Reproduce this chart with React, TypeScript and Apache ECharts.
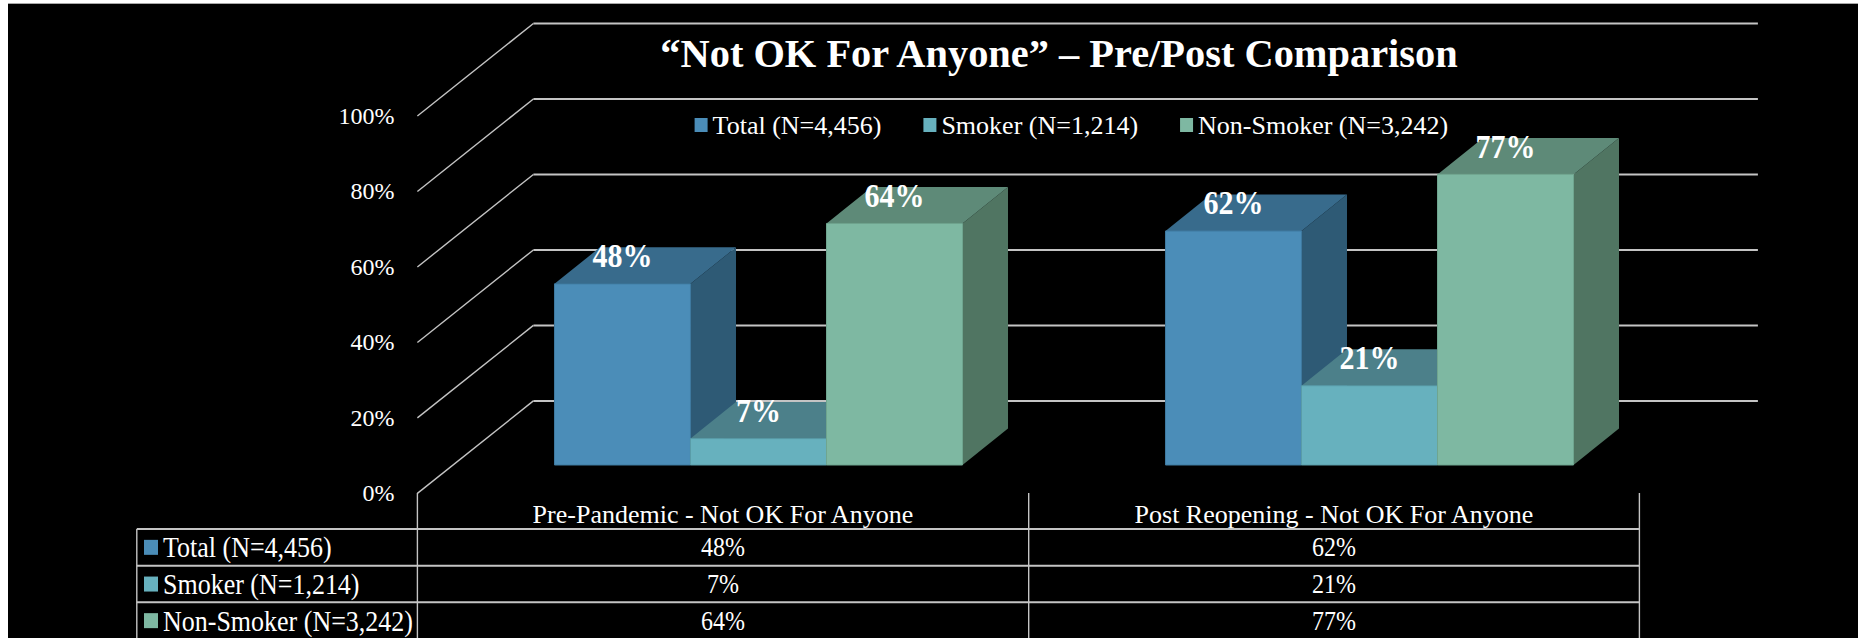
import React, { useEffect, useRef } from "react";
import * as echarts from "echarts";

const titleText = "\u201CNot OK For Anyone\u201D \u2013 Pre/Post Comparison";
const categories = ["Pre-Pandemic - Not OK For Anyone", "Post Reopening - Not OK For Anyone"];
const seriesNames = ["Total (N=4,456)", "Smoker (N=1,214)", "Non-Smoker (N=3,242)"];
const totalValues = [48, 62];
const smokerValues = [7, 21];
const nonSmokerValues = [64, 77];
const yTicks = [0, 20, 40, 60, 80, 100];

const allValues = [totalValues, smokerValues, nonSmokerValues];
const frontColors = ["#4B8DB8", "#67B1BE", "#7EB8A2"];
const topColors = ["#386B8C", "#4C808A", "#5E8A78"];
const sideColors = ["#2E5A75", "#3F6E78", "#507562"];
const edgeColors = ["#3F7AA0", "#5A9CA8", "#6FA58F"];

const FONT = '"Liberation Serif", "Times New Roman", serif';
const GRID_LINE = "#c4c4c4";
const DEPTH_X = 116;
const DEPTH_Y = 92.5;
const BAR_DEPTH_X = 45.5;
const BAR_DEPTH_Y = 36.5;
const BAR_RATIO = 0.2226;
const TEXT_STRETCH = 1.15;

const FRAME = { left: 417.4, top: 116, width: 1222, height: 377.4 };
const PLANE = { left: 453, top: 87.6, width: 1222, height: 377.4 };
const TABLE = { left: 136.8, rowTops: [529, 565.7, 602.3], bottom: 638, axisTop: 493, cols: [417.4, 1028.7, 1639.4] };

function wallItem(params: any, api: any) {
  const v = api.value(1);
  const p = api.coord([0, v]);
  const cs = params.coordSys;
  const band = api.size([1, 0])[0];
  const x0 = p[0] - band / 2;
  const yb = p[1] - DEPTH_Y;
  return {
    type: "group",
    silent: true,
    children: [
      {
        type: "line",
        shape: { x1: x0, y1: p[1], x2: x0 + DEPTH_X, y2: yb },
        style: { stroke: GRID_LINE, lineWidth: 1.4 },
      },
      {
        type: "line",
        shape: { x1: x0 + DEPTH_X, y1: yb, x2: cs.x + cs.width + DEPTH_X + 2.5, y2: yb },
        style: { stroke: GRID_LINE, lineWidth: 2 },
      },
    ],
  };
}

function barItem(pos: number) {
  return (_params: any, api: any) => {
    const value = api.value(1);
    const base = api.coord([api.value(0), 0]);
    const top = api.coord([api.value(0), value]);
    const band = api.size([1, 0])[0];
    const w = band * BAR_RATIO;
    const x = base[0] + (pos - 1.5) * w;
    const yt = top[1];
    const yb = base[1];
    const dx = BAR_DEPTH_X;
    const dy = BAR_DEPTH_Y;
    return {
      type: "group",
      children: [
        {
          type: "polygon",
          shape: { points: [[x + w, yt], [x + w + dx, yt - dy], [x + w + dx, yb - dy], [x + w, yb]] },
          style: { fill: sideColors[pos] },
        },
        {
          type: "polygon",
          shape: { points: [[x, yt], [x + dx, yt - dy], [x + w + dx, yt - dy], [x + w, yt]] },
          style: { fill: topColors[pos] },
        },
        {
          type: "rect",
          shape: { x, y: yt, width: w, height: yb - yt },
          style: { fill: frontColors[pos], stroke: edgeColors[pos], lineWidth: 1 },
        },
        {
          type: "text",
          x: x + w / 2,
          y: yt - 28.5,
          scaleY: TEXT_STRETCH,
          style: {
            text: `${value}%`,
            align: "center",
            verticalAlign: "middle",
            fill: "#ffffff",
            fontFamily: FONT,
            fontSize: 30,
            fontWeight: "bold",
          },
        },
      ],
    };
  };
}

function tableGraphics() {
  const line = (x1: number, y1: number, x2: number, y2: number, lineWidth = 2) => ({
    type: "line",
    silent: true,
    shape: { x1, y1, x2, y2 },
    style: { stroke: GRID_LINE, lineWidth },
  });
  const last = TABLE.cols[TABLE.cols.length - 1];
  const els: any[] = [];
  TABLE.rowTops.forEach((y) => els.push(line(TABLE.left, y, last, y)));
  els.push(line(TABLE.left, TABLE.rowTops[0], TABLE.left, TABLE.bottom, 1.4));
  TABLE.cols.forEach((x) => els.push(line(x, TABLE.axisTop, x, TABLE.bottom, 1.4)));
  const rowH = TABLE.rowTops[1] - TABLE.rowTops[0];
  seriesNames.forEach((name, r) => {
    const cy = TABLE.rowTops[r] + rowH / 2;
    els.push({
      type: "rect",
      silent: true,
      shape: { x: 144, y: cy - 7.5, width: 14, height: 15 },
      style: { fill: frontColors[r] },
    });
    els.push({
      type: "text",
      silent: true,
      x: 163,
      y: cy,
      scaleY: TEXT_STRETCH,
      style: {
        text: name, align: "left", verticalAlign: "middle",
        fill: "#ffffff", fontFamily: FONT, fontSize: 26,
      },
    });
    categories.forEach((_c, i) => {
      els.push({
        type: "text",
        silent: true,
        x: (TABLE.cols[i] + TABLE.cols[i + 1]) / 2,
        y: cy,
        scaleY: TEXT_STRETCH,
        style: {
          text: `${allValues[r][i]}%`,
          align: "center",
          verticalAlign: "middle",
          fill: "#ffffff",
          fontFamily: FONT,
          fontSize: 24,
        },
      });
    });
  });
  return els;
}

export default function App() {
  const ref = useRef<HTMLDivElement>(null);
  useEffect(() => {
    const chart = echarts.init(ref.current!, undefined, { renderer: "svg" });
    chart.setOption({
      animation: false,
      backgroundColor: "transparent",
      textStyle: { fontFamily: FONT },
      title: {
        text: titleText,
        left: 1054,
        top: 28,
        textAlign: "center",
        textStyle: { color: "#ffffff", fontFamily: FONT, fontSize: 40.4, fontWeight: "bold" },
      },
      legend: {
        data: seriesNames,
        left: 694.6,
        top: 112,
        padding: 0,
        icon: "rect",
        itemWidth: 13,
        itemHeight: 14,
        itemGap: 42,
        textStyle: { color: "#ffffff", fontFamily: FONT, fontSize: 26 },
      },
      grid: [
        { ...FRAME, containLabel: false },
        { ...PLANE, containLabel: false },
      ],
      xAxis: [
        {
          type: "category",
          gridIndex: 0,
          data: categories,
          axisLine: { show: false },
          axisTick: { show: false },
          axisLabel: { color: "#ffffff", fontFamily: FONT, fontSize: 26, margin: 8 },
        },
        { type: "category", gridIndex: 1, data: categories, show: false },
      ],
      yAxis: [
        {
          type: "value",
          gridIndex: 0,
          min: 0,
          max: 100,
          interval: 20,
          axisLine: { show: false },
          axisTick: { show: false },
          splitLine: { show: false },
          axisLabel: { color: "#ffffff", fontFamily: FONT, fontSize: 24, margin: 23, formatter: "{value}%" },
        },
        { type: "value", gridIndex: 1, min: 0, max: 100, interval: 20, show: false, splitLine: { show: false } },
      ],
      graphic: { elements: tableGraphics() },
      series: [
        {
          type: "custom",
          name: "walls",
          xAxisIndex: 0,
          yAxisIndex: 0,
          silent: true,
          z: 1,
          data: yTicks.map((v) => [0, v]),
          encode: { x: 0, y: 1 },
          renderItem: wallItem,
        },
        ...seriesNames.map((name, pos) => ({
          type: "custom",
          name,
          xAxisIndex: 1,
          yAxisIndex: 1,
          z: 2 + pos,
          itemStyle: { color: frontColors[pos] },
          data: allValues[pos].map((v, i) => [i, v]),
          encode: { x: 0, y: 1 },
          renderItem: barItem(pos),
        })),
      ],
    });
    return () => chart.dispose();
  }, []);
  return (
    <div style={{ position: "absolute", left: 0, top: 0, width: 1858, height: 638, background: "#ffffff", overflow: "hidden" }}>
      <div style={{ position: "absolute", left: 8, top: 3, right: 0, bottom: 0, background: "#000000", borderTop: "1px solid #a8a8a8" }} />
      <div ref={ref} style={{ position: "absolute", left: 0, top: 0, width: 1858, height: 638 }} />
    </div>
  );
}
